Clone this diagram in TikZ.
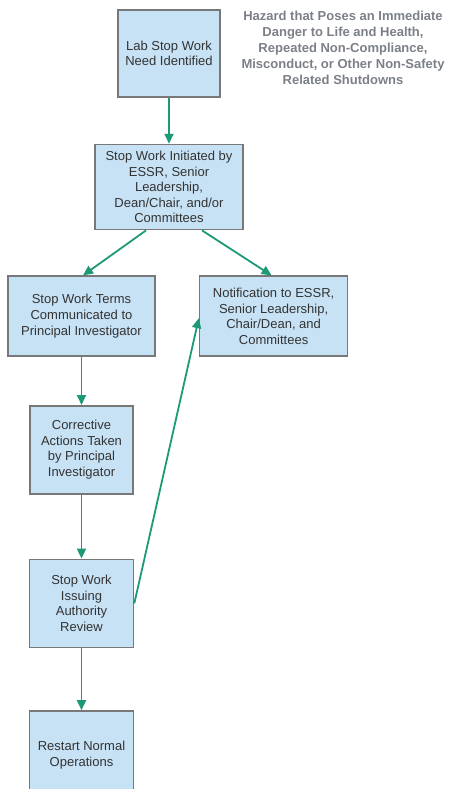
\documentclass[tikz,border=0pt]{standalone}
\usepackage{fontspec}
\setmainfont{Liberation Sans}
\usetikzlibrary{positioning, arrows.meta}
\definecolor{boxfill}{RGB}{199,226,245}
\definecolor{boxline}{RGB}{120,120,120}
\definecolor{flow}{RGB}{29,153,120}
\definecolor{notegray}{RGB}{123,128,134}

\begin{document}
\begin{tikzpicture}[x=1pt,y=1pt,>={Triangle[length=10pt,width=9pt]},
    flow line/.style={->,draw=flow,fill=flow,line width=1.8pt},
    box node/.style={rectangle,draw=boxline,line width=1.6pt,fill=boxfill,text=black!80,align=center,
      font=\fontsize{13}{15.6}\selectfont,inner sep=0pt},
    note node/.style={align=center,text=notegray,font=\bfseries\fontsize{13}{16}\selectfont}]
\useasboundingbox (0,0) rectangle (448,-789);

\node[box node,minimum width=102pt,minimum height=87pt] (id)   at (169,-53.5)          {Lab Stop Work\\Need Identified};
\node[box node,minimum width=148pt,minimum height=85pt] (init) [below=46pt of id]     {Stop Work Initiated by\\ESSR, Senior\\Leadership,\\Dean/Chair, and/or\\Committees};
\node[box node,minimum width=147pt,minimum height=80pt] (terms) [below=45pt of init,xshift=-87.5pt] {Stop Work Terms\\Communicated to\\Principal Investigator};
\node[box node,minimum width=148pt,minimum height=80pt] (notify) [right=43pt of terms] {Notification to ESSR,\\Senior Leadership,\\Chair/Dean, and\\Committees};
\node[box node,minimum width=103pt,minimum height=88pt] (fix)  [below=48pt of terms]  {Corrective\\Actions Taken\\by Principal\\Investigator};
\node[box node,minimum width=104pt,minimum height=88pt] (review) [below=64pt of fix]  {Stop Work\\Issuing\\Authority\\Review};
\node[box node,minimum width=104pt,minimum height=88pt] (restart) [below=62pt of review] {Restart Normal\\Operations};

\node[note node] (hazard) at (343,-48) {Hazard that Poses an Immediate\\Danger to Life and Health,\\Repeated Non-Compliance,\\Misconduct, or Other Non-Safety\\Related Shutdowns};

\draw[flow line] (id) -- (init);
\draw[flow line] ([xshift=-23pt]init.south) -- ([xshift=1.5pt]terms.north);
\draw[flow line] ([xshift=33pt]init.south) -- ([xshift=-2pt]notify.north);
\draw[flow line] (terms) -- (fix);
\draw[flow line] (fix) -- (review);
\draw[flow line] (review) -- (restart);
\draw[flow line] (review.east) -- ([yshift=-2pt]notify.west);
\end{tikzpicture}
\end{document}
